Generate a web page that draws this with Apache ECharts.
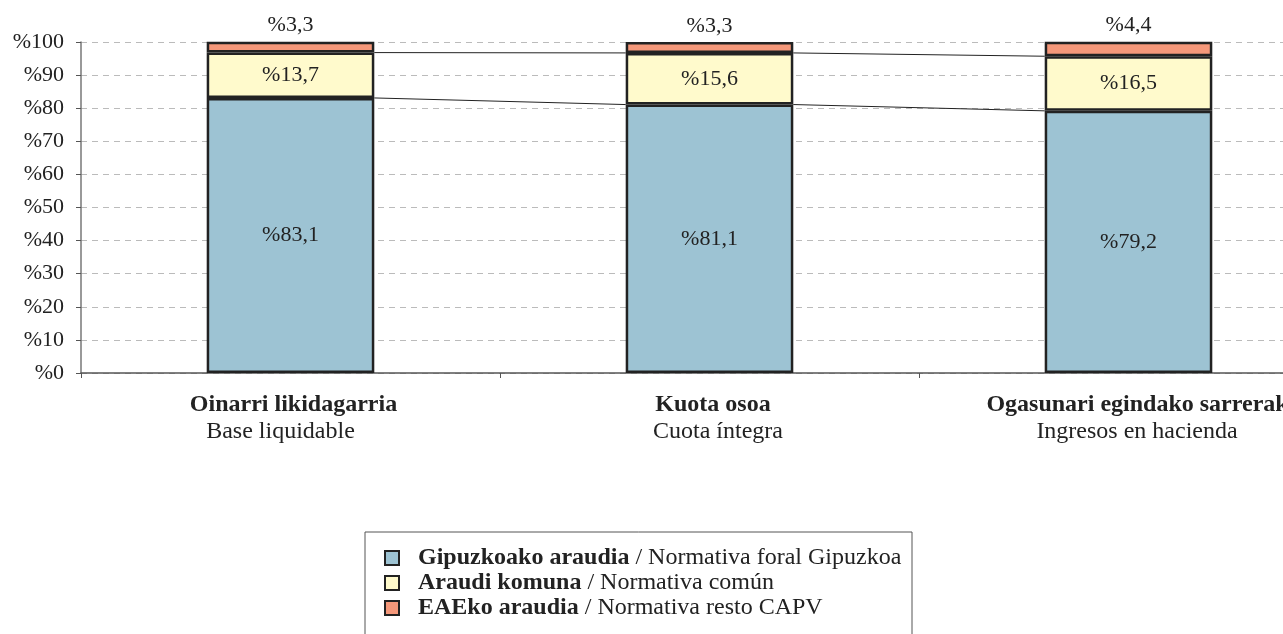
<!DOCTYPE html>
<html>
<head>
<meta charset="utf-8">
<script src="https://cdn.jsdelivr.net/npm/echarts@6/dist/echarts.min.js"></script>
<style>
  html, body { margin: 0; padding: 0; background: #fff; overflow: hidden; }
  #chart { width: 1340px; height: 634px; }
</style>
</head>
<body>
<div id="chart"></div>
<script>
// Categories: Basque name (bold) and Spanish name
const categoriesEu = ['Oinarri likidagarria', 'Kuota osoa', 'Ogasunari egindako sarrerak'];
const categoriesEs = ['Base liquidable', 'Cuota íntegra', 'Ingresos en hacienda'];

// Shares (%) per regulation
const gipuzkoa = [83.1, 81.1, 79.2];
const komuna = [13.7, 15.6, 16.5];
const eae = [3.3, 3.3, 4.4];

// Legend names
const seriesEu = ['Gipuzkoako araudia', 'Araudi komuna', 'EAEko araudia'];
const seriesEs = ['Normativa foral Gipuzkoa', 'Normativa común', 'Normativa resto CAPV'];

const yTicks = [0, 10, 20, 30, 40, 50, 60, 70, 80, 90, 100];

const FONT = '"Liberation Serif", "DejaVu Serif", serif';
const BAR_WIDTH_RATIO = 0.4;

// Horizontal nudges (px) of the two category label lines
const LINE1_SHIFT = [3, 3.5, 9];
const LINE2_SHIFT = [-10, 8.5, 8.5];

const fmt = v => '%' + String(v).replace('.', ',');

const chart = echarts.init(document.getElementById('chart'));

// Cumulative tops of the lower two segments, used for connector lines
const topBlue = gipuzkoa.slice();
const topYellow = gipuzkoa.map((v, i) => v + komuna[i]);

function connectorItem(params, api) {
  const i = api.value(0);
  const half = api.size([1, 0])[0] * BAR_WIDTH_RATIO / 2;
  const children = [];
  [topBlue, topYellow].forEach(arr => {
    const a = api.coord([i, arr[i]]);
    const b = api.coord([i + 1, arr[i + 1]]);
    children.push({
      type: 'line',
      shape: { x1: a[0] + half, y1: a[1], x2: b[0] - half, y2: b[1] },
      style: { stroke: '#222', lineWidth: 1 }
    });
  });
  return { type: 'group', children };
}

// Rich styles for category labels, one pair per category
const shiftPad = dx => dx >= 0 ? [0, 0, 0, 2 * dx] : [0, -2 * dx, 0, 0];
const catRich = {};
categoriesEu.forEach((_, i) => {
  catRich['b' + i] = { fontFamily: FONT, fontSize: 24, fontWeight: 'bold', color: '#222', lineHeight: 27, padding: shiftPad(LINE1_SHIFT[i]) };
  catRich['n' + i] = { fontFamily: FONT, fontSize: 24, color: '#222', lineHeight: 27, padding: shiftPad(LINE2_SHIFT[i]) };
});

const barBase = {
  type: 'bar',
  stack: 'total',
  barWidth: (BAR_WIDTH_RATIO * 100) + '%',
  itemStyle: { borderColor: '#222', borderWidth: 2.5 },
  emphasis: { disabled: true },
  label: {
    show: true,
    fontFamily: FONT,
    fontSize: 22,
    color: '#222',
    formatter: p => fmt(p.value)
  }
};

chart.setOption({
  animation: false,
  textStyle: { fontFamily: FONT },
  grid: { left: 81, top: 42, height: 331, right: 2 },
  legend: {
    orient: 'vertical',
    left: 379,
    top: 541,
    icon: 'rect',
    itemWidth: 14,
    itemHeight: 14,
    itemGap: 1,
    itemStyle: { borderColor: '#222', borderWidth: 2 },
    data: seriesEu,
    formatter: name => {
      const i = seriesEu.indexOf(name);
      return '{b|' + name + '} / ' + seriesEs[i];
    },
    textStyle: {
      fontFamily: FONT,
      fontSize: 24,
      lineHeight: 24,
      color: '#222',
      padding: [0, 0, 0, 14],
      rich: { b: { fontFamily: FONT, fontSize: 24, lineHeight: 24, fontWeight: 'bold', color: '#222' } }
    }
  },
  graphic: [{
    type: 'rect',
    shape: { x: 365, y: 532, width: 547, height: 110 },
    style: { fill: 'none', stroke: '#555', lineWidth: 1 },
    silent: true
  }],
  xAxis: {
    type: 'category',
    data: categoriesEu,
    axisLine: { lineStyle: { color: '#555', width: 1.5 } },
    axisTick: { show: true, length: 5, lineStyle: { color: '#555' } },
    axisLabel: {
      margin: 18,
      interval: 0,
      formatter: (v, i) => '{b' + i + '|' + v + '}\n{n' + i + '|' + categoriesEs[i] + '}',
      rich: catRich
    }
  },
  yAxis: {
    type: 'value',
    min: yTicks[0],
    max: yTicks[yTicks.length - 1],
    interval: yTicks[1] - yTicks[0],
    axisLine: { show: true, lineStyle: { color: '#777', width: 1.5 } },
    axisTick: { show: true, inside: false, length: 5, lineStyle: { color: '#555' } },
    axisLabel: {
      fontFamily: FONT,
      fontSize: 22,
      color: '#222',
      margin: 17,
      formatter: v => '%' + v
    },
    splitLine: { show: true, lineStyle: { color: '#bbb', type: [6, 5], width: 1 } }
  },
  series: [
    Object.assign({}, barBase, {
      name: seriesEu[0],
      data: gipuzkoa,
      itemStyle: Object.assign({}, barBase.itemStyle, { color: '#9dc3d3' }),
      label: Object.assign({}, barBase.label, { position: 'inside' })
    }),
    Object.assign({}, barBase, {
      name: seriesEu[1],
      data: komuna,
      itemStyle: Object.assign({}, barBase.itemStyle, { color: '#fffacc' }),
      label: Object.assign({}, barBase.label, { position: 'inside' })
    }),
    Object.assign({}, barBase, {
      name: seriesEu[2],
      data: eae,
      itemStyle: Object.assign({}, barBase.itemStyle, { color: '#f5987a' }),
      label: Object.assign({}, barBase.label, { position: 'top', distance: 5 })
    }),
    {
      type: 'custom',
      name: 'connectors',
      silent: true,
      z: 3,
      data: [[0], [1]],
      encode: { x: 0 },
      renderItem: connectorItem
    }
  ]
});
</script>
</body>
</html>
